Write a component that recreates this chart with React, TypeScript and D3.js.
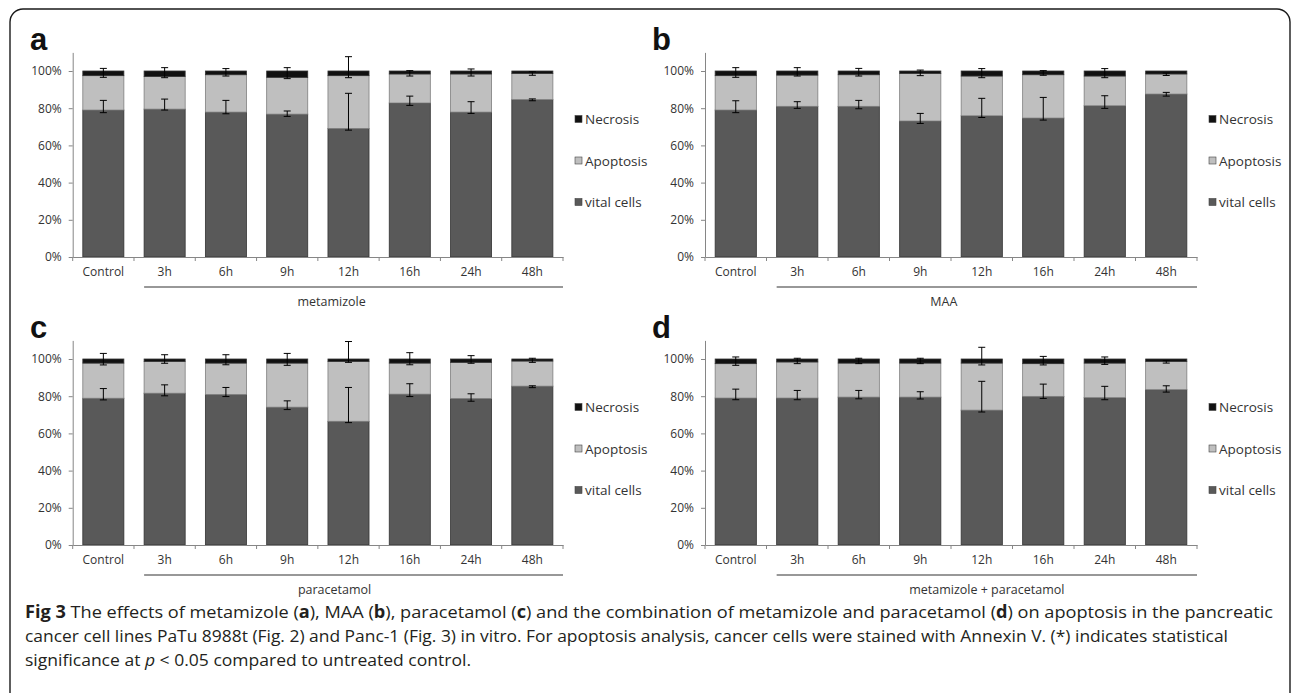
import React, { useEffect, useRef } from 'react';
import * as d3 from 'd3';

const categories = ['Control', '3h', '6h', '9h', '12h', '16h', '24h', '48h'];
const yTicks = [0, 20, 40, 60, 80, 100];
const legendNames = ['Necrosis', 'Apoptosis', 'vital cells'];
const groupLabels = ['metamizole', 'MAA', 'paracetamol', 'metamizole + paracetamol'];
const panelLetters = ['a', 'b', 'c', 'd'];

// panel a - metamizole
const vitalA = [79.0, 79.5, 77.9, 76.8, 69.1, 82.8, 77.9, 84.6];
const apoptosisA = [18.5, 17.6, 20.1, 19.8, 28.4, 15.6, 20.5, 14.1];
const necrosisA = [2.5, 2.9, 2.0, 3.4, 2.5, 1.6, 1.6, 1.3];
const vitalHiA = [84.2, 84.9, 84.2, 78.5, 88.0, 86.5, 83.5, 85.0];
const vitalLoA = [77.6, 79.0, 77.0, 75.6, 68.2, 81.5, 77.2, 84.0];
const apopHiA = [101.4, 101.8, 101.3, 101.8, 107.7, 100.2, 101.1, 99.6];
const apopLoA = [96.6, 96.4, 97.3, 95.9, 96.4, 97.3, 97.3, 97.7];

// panel b - MAA
const vitalB = [79.0, 81.0, 81.0, 73.1, 75.9, 74.7, 81.3, 87.6];
const apoptosisB = [18.5, 16.8, 17.0, 25.6, 21.4, 23.3, 16.0, 10.8];
const necrosisB = [2.5, 2.2, 2.0, 1.3, 2.7, 2.0, 2.7, 1.6];
const vitalHiB = [84.0, 83.5, 84.2, 77.2, 85.3, 85.8, 86.7, 88.5];
const vitalLoB = [77.6, 79.9, 79.7, 71.8, 75.0, 73.6, 79.9, 86.5];
const apopHiB = [101.8, 101.8, 101.4, 100.5, 101.3, 100.2, 101.3, 98.9];
const apopLoB = [96.6, 97.3, 97.3, 97.5, 96.4, 97.7, 96.4, 97.6];

// panel c - paracetamol
const vitalC = [78.9, 81.6, 80.9, 74.1, 66.5, 81.1, 78.7, 85.4];
const apoptosisC = [18.9, 17.1, 16.9, 23.7, 32.2, 16.7, 19.5, 13.5];
const necrosisC = [2.2, 1.3, 2.2, 2.2, 1.3, 2.2, 1.8, 1.1];
const vitalHiC = [84.1, 86.1, 84.7, 77.5, 84.7, 86.7, 81.3, 85.6];
const vitalLoC = [78.0, 80.2, 79.8, 72.8, 65.8, 79.8, 77.3, 84.6];
const apopHiC = [103.0, 102.3, 102.3, 103.0, 109.4, 103.4, 101.8, 100.4];
const apopLoC = [96.8, 97.7, 96.9, 96.6, 98.2, 96.9, 97.7, 98.2];

// panel d - metamizole + paracetamol
const vitalD = [79.0, 79.0, 79.5, 79.5, 72.5, 79.9, 79.2, 83.5];
const apoptosisD = [18.5, 19.4, 18.3, 18.3, 25.3, 17.6, 18.6, 15.2];
const necrosisD = [2.5, 1.6, 2.2, 2.2, 2.2, 2.5, 2.2, 1.3];
const vitalHiD = [83.8, 83.1, 83.1, 82.4, 88.0, 86.5, 85.3, 85.6];
const vitalLoD = [78.1, 78.1, 78.6, 78.5, 71.5, 78.8, 78.1, 82.2];
const apopHiD = [101.1, 100.4, 100.4, 100.4, 106.3, 101.4, 101.1, 99.1];
const apopLoD = [96.6, 97.5, 97.5, 97.5, 96.8, 96.8, 97.1, 97.8];

const panels = [
  { vital: vitalA, apoptosis: apoptosisA, necrosis: necrosisA, vHi: vitalHiA, vLo: vitalLoA, aHi: apopHiA, aLo: apopLoA },
  { vital: vitalB, apoptosis: apoptosisB, necrosis: necrosisB, vHi: vitalHiB, vLo: vitalLoB, aHi: apopHiB, aLo: apopLoB },
  { vital: vitalC, apoptosis: apoptosisC, necrosis: necrosisC, vHi: vitalHiC, vLo: vitalLoC, aHi: apopHiC, aLo: apopLoC },
  { vital: vitalD, apoptosis: apoptosisD, necrosis: necrosisD, vHi: vitalHiD, vLo: vitalLoD, aHi: apopHiD, aLo: apopLoD },
];

const W = 1292;
const H = 693;
const colors: Record<string, string> = { vital: '#595959', apoptosis: '#bfbfbf', necrosis: '#111111' };
const legendColors = [colors.necrosis, colors.apoptosis, colors.vital];
const font = "'Open Sans', 'Liberation Sans', sans-serif";

// layout of the four panels
const layout = [
  { x0: 72.7, x1: 563, y0: 257, labelX: 30, groupShift: -22 },
  { x0: 705, x1: 1197, y0: 257, labelX: 652, groupShift: -43 },
  { x0: 72.7, x1: 563, y0: 545, labelX: 30, groupShift: -19 },
  { x0: 705, x1: 1197, y0: 545, labelX: 652, groupShift: 0 },
];
const pxPer100 = 186;

export default function App() {
  const ref = useRef<SVGSVGElement>(null);

  useEffect(() => {
    const svg = d3.select(ref.current);
    svg.selectAll('*').remove();

    svg.append('rect').attr('width', W).attr('height', H).attr('fill', '#fff');

    // outer frame
    svg
      .append('rect')
      .attr('x', 10)
      .attr('y', 9)
      .attr('width', 1280)
      .attr('height', 710)
      .attr('rx', 13)
      .attr('fill', 'none')
      .attr('stroke', '#1a1a1a')
      .attr('stroke-width', 1.4);

    panels.forEach((p, pi) => {
      const L = layout[pi];
      const g = svg.append('g');

      const x = d3
        .scaleBand()
        .domain(categories)
        .range([L.x0, L.x1])
        .paddingInner(0.33)
        .paddingOuter(0.165);
      const y = d3
        .scaleLinear()
        .domain([0, 110])
        .range([L.y0, L.y0 - (pxPer100 * 110) / 100]);

      // panel letter
      g.append('text')
        .attr('x', L.labelX)
        .attr('y', L.y0 - 207)
        .attr('font-family', "'Liberation Sans', Arial, sans-serif")
        .attr('font-weight', 'bold')
        .attr('font-size', 31)
        .attr('fill', '#111')
        .text(panelLetters[pi]);

      // stacked bars
      const rows = categories.map((c, i) => ({
        cat: c,
        vital: p.vital[i],
        apoptosis: p.apoptosis[i],
        necrosis: p.necrosis[i],
      }));
      const stack = d3.stack<any>().keys(['vital', 'apoptosis', 'necrosis'])(rows);
      stack.forEach((layer) => {
        g.append('g')
          .selectAll('rect')
          .data(layer)
          .enter()
          .append('rect')
          .attr('x', (d: any) => x(d.data.cat)!)
          .attr('width', x.bandwidth())
          .attr('y', (d) => y(d[1]))
          .attr('height', (d) => y(d[0]) - y(d[1]))
          .attr('fill', colors[layer.key])
          .attr('stroke', layer.key === 'apoptosis' ? '#7f7f7f' : '#333')
          .attr('stroke-width', 0.8);
      });

      // error bars
      const cap = 3.5;
      const drawErr = (hi: number[], lo: number[]) => {
        categories.forEach((c, i) => {
          const cx = x(c)! + x.bandwidth() / 2;
          const eg = g.append('g').attr('stroke', '#000').attr('stroke-width', 1);
          eg.append('line').attr('x1', cx).attr('x2', cx).attr('y1', y(hi[i])).attr('y2', y(lo[i]));
          eg.append('line').attr('x1', cx - cap).attr('x2', cx + cap).attr('y1', y(hi[i])).attr('y2', y(hi[i]));
          eg.append('line').attr('x1', cx - cap).attr('x2', cx + cap).attr('y1', y(lo[i])).attr('y2', y(lo[i]));
        });
      };
      drawErr(p.vHi, p.vLo);
      drawErr(p.aHi, p.aLo);

      // y axis
      const yAxis = g
        .append('g')
        .attr('transform', `translate(${L.x0},0)`)
        .call(
          d3
            .axisLeft(y)
            .tickValues(yTicks)
            .tickFormat((d) => d + '%')
            .tickSize(4)
            .tickSizeOuter(0)
            .tickPadding(7)
        );
      yAxis.select('.domain').attr('stroke', '#868686');
      yAxis.selectAll('.tick line').attr('stroke', '#868686');
      yAxis
        .selectAll('.tick text')
        .attr('font-family', font)
        .attr('font-size', 12)
        .attr('fill', '#333');

      // x axis
      const xAxis = g
        .append('g')
        .attr('transform', `translate(0,${L.y0})`)
        .call(d3.axisBottom(x).tickSize(0).tickSizeOuter(0).tickPadding(10));
      xAxis.select('.domain').attr('stroke', '#868686');
      xAxis
        .selectAll('.tick text')
        .attr('font-family', font)
        .attr('font-size', 12)
        .attr('fill', '#333');
      d3.range(categories.length + 1).forEach((i) => {
        const tx = L.x0 + i * x.step();
        g.append('line')
          .attr('x1', tx)
          .attr('x2', tx)
          .attr('y1', L.y0)
          .attr('y2', L.y0 + 4)
          .attr('stroke', '#868686');
      });

      // treatment bracket + label
      const lineStart = x(categories[1])!;
      g.append('line')
        .attr('x1', lineStart)
        .attr('x2', L.x1)
        .attr('y1', L.y0 + 30)
        .attr('y2', L.y0 + 30)
        .attr('stroke', '#333')
        .attr('stroke-width', 1.2);
      g.append('text')
        .attr('x', (lineStart + L.x1) / 2 + L.groupShift)
        .attr('y', L.y0 + 49)
        .attr('text-anchor', 'middle')
        .attr('font-family', font)
        .attr('font-size', 12.5)
        .attr('fill', '#333')
        .text(groupLabels[pi]);

      // legend
      legendNames.forEach((name, li) => {
        const ly = L.y0 - pxPer100 + 48 + li * 41.5;
        g.append('rect')
          .attr('x', L.x1 + 12)
          .attr('y', ly - 3.5)
          .attr('width', 7)
          .attr('height', 7)
          .attr('fill', legendColors[li])
          .attr('stroke', '#444')
          .attr('stroke-width', 0.6);
        g.append('text')
          .attr('x', L.x1 + 22)
          .attr('y', ly + 5)
          .attr('font-family', font)
          .attr('font-size', 13.5)
          .attr('fill', '#333')
          .text(name);
      });
    });

    // caption
    const cap = svg
      .append('g')
      .attr('font-family', font)
      .attr('font-size', 17)
      .attr('fill', '#231f20');
    const lines: [string, boolean][][] = [
      [
        ['Fig 3', true],
        [' The effects of metamizole (', false],
        ['a', true],
        ['), MAA (', false],
        ['b', true],
        ['), paracetamol (', false],
        ['c', true],
        [') and the combination of metamizole and paracetamol (', false],
        ['d', true],
        [') on apoptosis in the pancreatic', false],
      ],
      [
        [
          'cancer cell lines PaTu 8988t (Fig. 2) and Panc-1 (Fig. 3) in vitro. For apoptosis analysis, cancer cells were stained with Annexin V. (*) indicates statistical',
          false,
        ],
      ],
      [
        ['significance at ', false],
        ['p', false],
        [' < 0.05 compared to untreated control.', false],
      ],
    ];
    const lineLengths = [1248, 1203, 446];
    const baselines = [618, 642, 666];
    lines.forEach((parts, li) => {
      const t = cap
        .append('text')
        .attr('x', 25)
        .attr('y', baselines[li])
        .attr('textLength', lineLengths[li])
        .attr('lengthAdjust', 'spacingAndGlyphs');
      parts.forEach(([s, bold]) => {
        const ts = t.append('tspan').text(s);
        if (bold) ts.attr('font-weight', 'bold');
        if (li === 2 && s === 'p') ts.attr('font-style', 'italic');
      });
    });
  }, []);

  return (
    <svg
      ref={ref}
      width={W}
      height={H}
      style={{ position: 'absolute', left: 0, top: 0, display: 'block' }}
    />
  );
}
